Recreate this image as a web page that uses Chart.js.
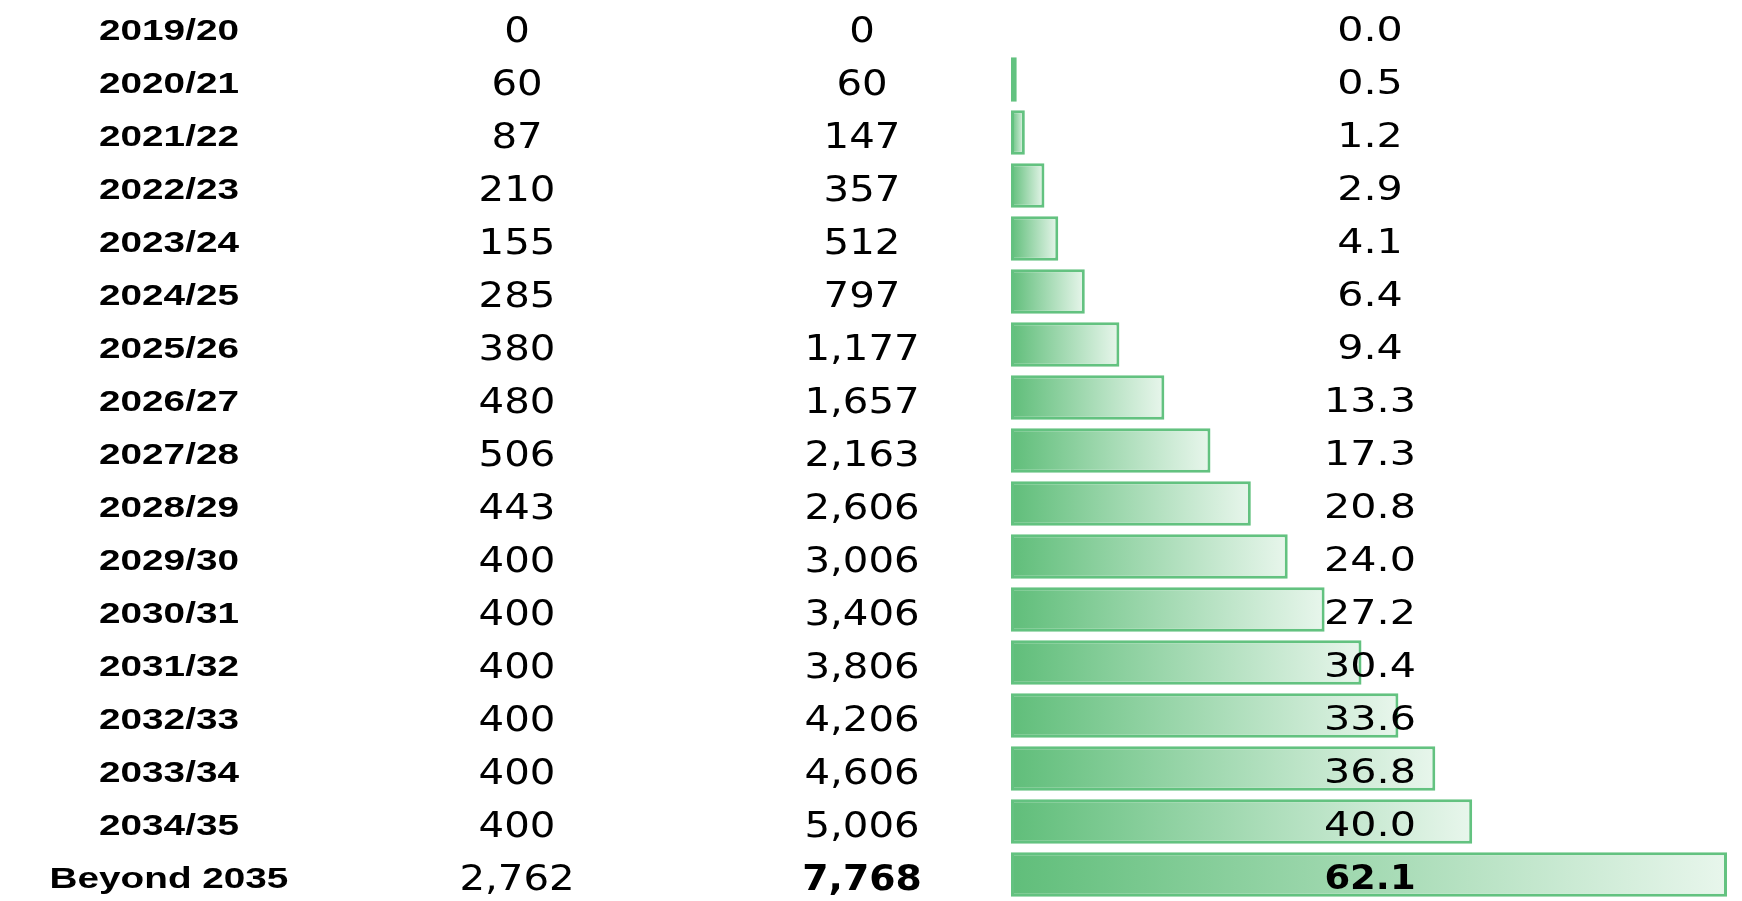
<!DOCTYPE html>
<html>
<head>
<meta charset="utf-8">
<script src="https://cdn.jsdelivr.net/npm/chart.js@4.4.1/dist/chart.umd.min.js"></script>
<style>
  html, body { margin: 0; padding: 0; background: #fff; }
  #wrap { width: 1742px; height: 901px; position: relative; }
</style>
</head>
<body>
<div id="wrap"><canvas id="rolloutChart"></canvas></div>
<script>
// table rows
const years = ['2019/20', '2020/21', '2021/22', '2022/23', '2023/24', '2024/25', '2025/26', '2026/27',
  '2027/28', '2028/29', '2029/30', '2030/31', '2031/32', '2032/33', '2033/34', '2034/35', 'Beyond 2035'];
const annual = [0, 60, 87, 210, 155, 285, 380, 480, 506, 443, 400, 400, 400, 400, 400, 400, 2762];
const cumulative = [0, 60, 147, 357, 512, 797, 1177, 1657, 2163, 2606, 3006, 3406, 3806, 4206, 4606, 5006, 7768];
const cumulativeBn = [0.0, 0.5, 1.2, 2.9, 4.1, 6.4, 9.4, 13.3, 17.3, 20.8, 24.0, 27.2, 30.4, 33.6, 36.8, 40.0, 62.1];

const lastRow = years.length - 1;

// stretched text, like the squashed spreadsheet screenshot
function drawStretched(ctx, text, cx, baseline, font, sx) {
  ctx.save();
  ctx.font = font;
  ctx.translate(cx, baseline);
  ctx.scale(sx, 1);
  ctx.fillText(text, 0, 0);
  ctx.restore();
}

const tableText = {
  id: 'tableText',
  afterDatasetsDraw(chart) {
    const ctx = chart.ctx;
    const yScale = chart.scales.y;
    ctx.save();
    ctx.fillStyle = '#000';
    ctx.textAlign = 'center';
    ctx.textBaseline = 'alphabetic';
    years.forEach((label, i) => {
      const y = yScale.getPixelForValue(i) + 2;
      const bold = i === lastRow;
      drawStretched(ctx, label, 169, y + 11, 'bold 30px "Liberation Sans", Arial, sans-serif', 1.29);
      drawStretched(ctx, annual[i].toLocaleString('en-US'), 517, y + 13,
        '35px "DejaVu Sans", sans-serif', 1.15);
      drawStretched(ctx, cumulative[i].toLocaleString('en-US'), 862, y + 13,
        (bold ? 'bold ' : '') + '35px "DejaVu Sans", sans-serif', bold ? 1.08 : 1.15);
      drawStretched(ctx, cumulativeBn[i].toFixed(1), 1370, y + 12,
        (bold ? 'bold ' : '') + '33px "DejaVu Sans", sans-serif', bold ? 1.12 : 1.25);
    });
    ctx.restore();
  }
};

function barGradient(context) {
  const chart = context.chart;
  const xScale = chart.scales.x;
  const v = context.raw;
  if (!xScale || !v) return 'rgba(99, 190, 123, 1)';
  const x0 = xScale.getPixelForValue(0);
  const x1 = xScale.getPixelForValue(v);
  const g = chart.ctx.createLinearGradient(x0, 0, x1, 0);
  g.addColorStop(0, 'rgba(96, 190, 122, 1)');
  g.addColorStop(1, 'rgba(232, 246, 236, 1)');
  return g;
}

const ctx = document.getElementById('rolloutChart').getContext('2d');
new Chart(ctx, {
  type: 'bar',
  data: {
    labels: years,
    datasets: [{
      label: 'Cumulative (bn)',
      data: cumulativeBn,
      backgroundColor: barGradient,
      borderColor: 'rgba(99, 194, 128, 1)',
      borderWidth: (c) => (c.raw ? 3 : 0),
      borderSkipped: false,
      barPercentage: 0.84,
      categoryPercentage: 1
    }]
  },
  options: {
    indexAxis: 'y',
    responsive: true,
    maintainAspectRatio: false,
    animation: false,
    layout: {
      padding: { left: 1011, right: 15, top: 0, bottom: 0 }
    },
    plugins: {
      legend: { display: false },
      tooltip: { enabled: false }
    },
    scales: {
      x: {
        display: false,
        min: 0,
        max: Math.max(...cumulativeBn)
      },
      y: {
        display: false,
        grid: { display: false }
      }
    }
  },
  plugins: [tableText]
});
</script>
</body>
</html>
